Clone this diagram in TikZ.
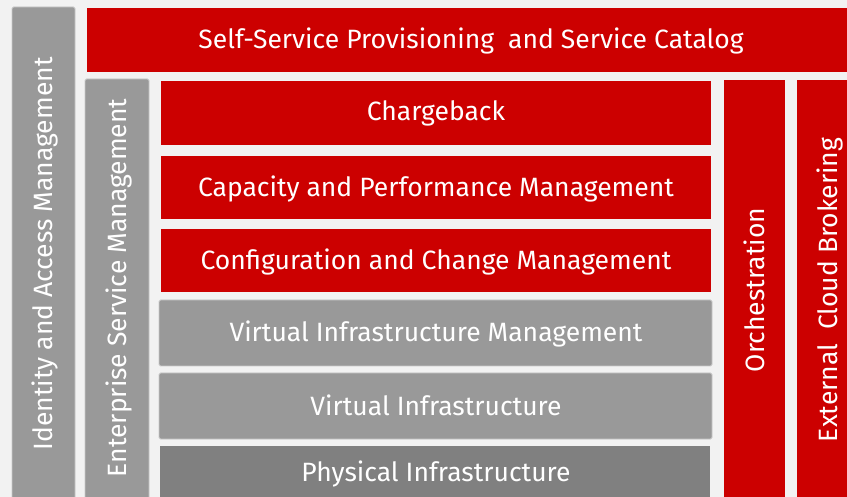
\documentclass[tikz,border=0pt]{standalone}
\usepackage{fontspec}
\setmainfont{Fira Sans}
\definecolor{bg}{HTML}{F2F2F2}
\definecolor{rhred}{HTML}{CC0000}
\definecolor{gA}{HTML}{999999}
\definecolor{gB}{HTML}{808080}
\definecolor{gedge}{HTML}{C8C8C8}
\begin{document}
\begin{tikzpicture}[x=1pt,y=-1pt,
  redbox/.style={fill=rhred,draw=none},
  graybox/.style={fill=gA,draw=gedge,line width=0.8pt,rounded corners=1.5pt},
  darkbox/.style={fill=gB,draw=none},
  lbl/.style={text=white,anchor=base,inner sep=0pt,font=\fontsize{26.5}{30}\selectfont},
  vlbl/.style={lbl,rotate=90}]
\fill[bg] (0,0) rectangle (847,497);
\useasboundingbox (0,0) rectangle (847,497);
% boxes
\draw[graybox] (12,7) rectangle (75,505);
\path[redbox] (87,8) rectangle (847,72);
\draw[graybox] (85,79) rectangle (149,505);
\path[redbox] (161,81) rectangle (711,145);
\path[redbox] (161,156) rectangle (711,219);
\path[redbox] (161,229) rectangle (711,292);
\draw[graybox] (159,300) rectangle (712,366);
\draw[graybox] (159,373) rectangle (712,439);
\path[darkbox] (160,446) rectangle (710,505);
\path[redbox] (724,80) rectangle (785,505);
\path[redbox] (797,80) rectangle (860,505);
% labels
\node[lbl] (ssp) at (471,49) {Self-Service Provisioning\ \ and Service Catalog};
\node[lbl] (cb) at (436,121) {Chargeback};
\node[lbl] (cpm) at (436,197) {Capacity and Performance Management};
\node[lbl] (ccm) at (436,270) {Configuration and Change Management};
\node[lbl] (vim) at (436,342) {Virtual Infrastructure Management};
\node[lbl] (vi) at (436,415) {Virtual Infrastructure};
\node[lbl] (pi) at (436,481) {Physical Infrastructure};
\node[vlbl] (iam) at (52.5,254) {Identity and Access Management};
\node[vlbl] (esm) at (126,288) {Enterprise Service Management};
\node[vlbl] (orch) at (764,290) {Orchestration};
\node[vlbl] (ecb) at (837.5,290) {External\ \ Cloud Brokering};
\end{tikzpicture}
\end{document}
